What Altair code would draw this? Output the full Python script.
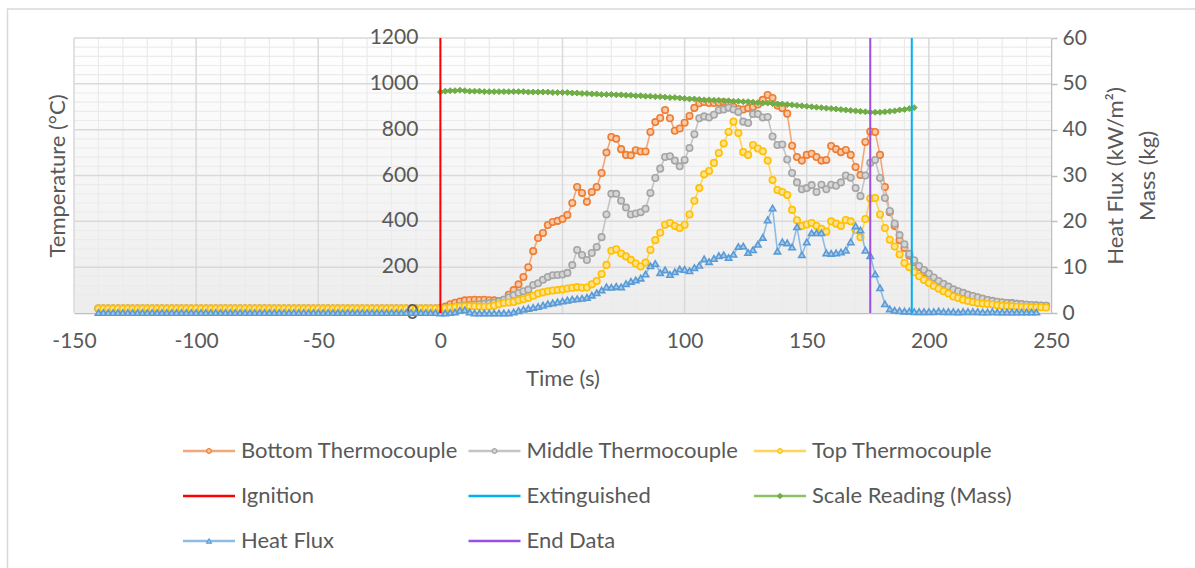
import altair as alt
import pandas as pd

# ---------------------------------------------------------------- data
# time stamps (s) relative to ignition, logged every 2 s
TIME_PRE = list(range(-140, 0, 2))
TIME_FIRE = list(range(0, 250, 2))
TIME_FLUX = list(range(0, 246, 2))
TIME_MASS = list(range(0, 196, 2))

# thermocouple readings (°C) before ignition
BOTTOM_PRE = [20, 20, 20, 20, 20, 20, 20, 20, 20, 20,
              20, 20, 20, 20, 20, 20, 20, 20, 20, 20,
              20, 20, 20, 20, 20, 20, 20, 20, 20, 20,
              20, 20, 20, 20, 20, 20, 20, 20, 20, 20,
              20, 20, 20, 20, 20, 20, 20, 20, 20, 20,
              20, 20, 20, 20, 20, 20, 20, 20, 20, 20,
              20, 20, 20, 20, 20, 20, 20, 20, 20, 20]
MIDDLE_PRE = [20, 20, 20, 20, 20, 20, 20, 20, 20, 20,
              20, 20, 20, 20, 20, 20, 20, 20, 20, 20,
              20, 20, 20, 20, 20, 20, 20, 20, 20, 20,
              20, 20, 20, 20, 20, 20, 20, 20, 20, 20,
              20, 20, 20, 20, 20, 20, 20, 20, 20, 20,
              20, 20, 20, 20, 20, 20, 20, 20, 20, 20,
              20, 20, 20, 20, 20, 20, 20, 20, 20, 20]
TOP_PRE = [19, 19, 19, 19, 19, 19, 19, 19, 19, 19,
           19, 19, 19, 19, 19, 19, 19, 19, 19, 19,
           19, 19, 19, 19, 19, 19, 19, 19, 19, 19,
           19, 19, 19, 19, 19, 19, 19, 19, 19, 19,
           19, 19, 19, 19, 19, 19, 19, 19, 19, 19,
           19, 19, 19, 19, 19, 19, 19, 19, 19, 19,
           19, 19, 19, 19, 19, 19, 19, 19, 19, 19]
FLUX_PRE = [0.1, 0.1, 0.1, 0.1, 0.1, 0.1, 0.1, 0.1, 0.1, 0.1,
            0.1, 0.1, 0.1, 0.1, 0.1, 0.1, 0.1, 0.1, 0.1, 0.1,
            0.1, 0.1, 0.1, 0.1, 0.1, 0.1, 0.1, 0.1, 0.1, 0.1,
            0.1, 0.1, 0.1, 0.1, 0.1, 0.1, 0.1, 0.1, 0.1, 0.1,
            0.1, 0.1, 0.1, 0.1, 0.1, 0.1, 0.1, 0.1, 0.1, 0.1,
            0.1, 0.1, 0.1, 0.1, 0.1, 0.1, 0.1, 0.1, 0.1, 0.1,
            0.1, 0.1, 0.1, 0.1, 0.1, 0.1, 0.1, 0.1, 0.1, 0.1]

# thermocouple readings (°C) from ignition onward
BOTTOM_FIRE = [22, 28, 38, 45, 50, 55, 57, 58, 57, 58,
               56, 55, 52, 58, 80, 100, 125, 157, 200, 270,
               327, 349, 384, 397, 402, 410, 428, 480, 550, 524,
               485, 528, 550, 611, 700, 768, 760, 715, 690, 688,
               710, 705, 705, 790, 833, 851, 886, 850, 795, 805,
               830, 860, 895, 915, 921, 916, 916, 918, 921, 910,
               900, 890, 888, 894, 899, 910, 930, 951, 938, 905,
               894, 870, 730, 681, 665, 690, 695, 681, 665, 668,
               729, 715, 702, 711, 690, 637, 602, 746, 792, 790,
               690, 550, 440, 380, 318, 284, 250, 222, 200, 178,
               160, 145, 132, 120, 110, 100, 93, 87, 80, 73,
               67, 62, 57, 52, 48, 46, 44, 43, 40, 38,
               36, 34, 33, 32, 31]
MIDDLE_FIRE = [21, 22, 24, 27, 30, 33, 35, 37, 38, 40,
               42, 45, 50, 58, 68, 78, 87, 95, 102, 122,
               130, 145, 157, 165, 166, 168, 175, 209, 275, 253,
               231, 262, 288, 331, 430, 520, 520, 490, 460, 430,
               434, 440, 455, 524, 589, 630, 681, 684, 665, 640,
               668, 720, 780, 850, 858, 853, 865, 885, 888, 896,
               888, 877, 835, 829, 868, 868, 853, 855, 770, 733,
               735, 670, 611, 570, 540, 545, 558, 528, 560, 540,
               560, 555, 570, 600, 590, 545, 510, 600, 655, 668,
               589, 502, 445, 390, 340, 300, 258, 230, 205, 188,
               172, 155, 140, 127, 115, 103, 95, 88, 80, 74,
               68, 62, 57, 53, 49, 46, 44, 42, 40, 38,
               36, 35, 34, 33, 32]
TOP_FIRE = [20, 21, 23, 26, 28, 29, 30, 29, 28, 27,
            28, 32, 38, 44, 46, 48, 55, 60, 66, 75,
            85, 90, 95, 98, 100, 103, 107, 110, 113, 110,
            111, 125, 140, 170, 210, 272, 278, 260, 247, 232,
            216, 203, 220, 275, 318, 350, 385, 393, 380, 371,
            385, 430, 490, 545, 605, 620, 655, 698, 740, 790,
            835, 785, 702, 690, 733, 718, 706, 665, 580, 537,
            528, 515, 450, 405, 380, 386, 393, 380, 368, 355,
            400, 390, 380, 406, 400, 362, 331, 410, 500, 502,
            430, 371, 320, 290, 255, 218, 200, 178, 160, 144,
            131, 118, 106, 95, 85, 72, 65, 58, 52, 47,
            44, 41, 39, 37, 34, 31, 30, 29, 27, 26,
            26, 25, 25, 25, 24]

# heat flux (kW/m²) from ignition onward
FLUX_FIRE = [0.0, 0.0, 0.1, 0.2, 0.6, 0.7, 0.2, 0.0, 0.0, 0.0,
             0.0, 0.0, 0.0, 0.0, 0.0, 0.2, 0.5, 0.8, 1.0, 1.2,
             1.4, 1.7, 2.0, 2.2, 2.4, 2.6, 2.8, 3.0, 3.1, 3.2,
             3.4, 3.9, 4.4, 5.0, 5.7, 5.6, 5.8, 5.7, 6.4, 6.9,
             7.2, 7.6, 8.5, 10.3, 10.8, 8.8, 9.4, 8.4, 9.0, 9.6,
             9.5, 9.2, 9.9, 10.4, 11.8, 11.2, 11.9, 12.5, 12.7, 12.1,
             12.8, 14.5, 14.6, 13.2, 13.8, 15.0, 16.5, 20.3, 22.9, 13.5,
             15.5, 15.3, 14.4, 18.8, 12.7, 15.5, 17.5, 17.5, 17.5, 13.1,
             13.0, 13.1, 13.3, 13.7, 15.5, 19.0, 18.1, 13.7, 12.5, 8.5,
             5.5, 2.0, 0.9, 0.6, 0.5, 0.4, 0.4, 0.3, 0.3, 0.3,
             0.3, 0.3, 0.4, 0.3, 0.3, 0.3, 0.2, 0.3, 0.3, 0.3,
             0.3, 0.2, 0.2, 0.3, 0.2, 0.2, 0.2, 0.2, 0.2, 0.2,
             0.2, 0.2, 0.2]

# scale reading (kg)
MASS = [48.2, 48.4, 48.5, 48.5, 48.6, 48.5, 48.4, 48.4, 48.4, 48.3,
        48.3, 48.3, 48.3, 48.3, 48.3, 48.3, 48.3, 48.3, 48.2, 48.2,
        48.2, 48.2, 48.2, 48.1, 48.1, 48.1, 48.1, 48.0, 48.0, 47.9,
        47.9, 47.8, 47.8, 47.7, 47.7, 47.7, 47.6, 47.6, 47.5, 47.5,
        47.4, 47.4, 47.3, 47.3, 47.2, 47.2, 47.1, 47.0, 47.0, 46.9,
        46.8, 46.7, 46.7, 46.6, 46.5, 46.5, 46.4, 46.4, 46.3, 46.3,
        46.2, 46.2, 46.1, 46.1, 46.0, 45.9, 45.8, 45.8, 45.7, 45.6,
        45.6, 45.5, 45.4, 45.3, 45.2, 45.1, 45.0, 44.9, 44.8, 44.7,
        44.6, 44.5, 44.4, 44.3, 44.2, 44.1, 44.0, 43.9, 43.8, 43.8,
        43.8, 43.9, 44.0, 44.1, 44.3, 44.4, 44.6, 44.8]

# event times (s)
EVENTS = ["Ignition", "Extinguished", "End Data"]
EVENT_TIMES = [0, 193, 176]

# axis ticks
X_TICKS = [-150, -100, -50, 0, 50, 100, 150, 200, 250]
TEMP_TICKS = [0, 200, 400, 600, 800, 1000, 1200]
RIGHT_TICKS = [0, 10, 20, 30, 40, 50, 60]
X_MINOR = [v for v in range(-140, 250, 10) if v % 50 != 0]
TEMP_MINOR = [v for v in range(40, 1200, 40) if v % 200 != 0]

# ---------------------------------------------------------------- style
FONT = "Lato"
FS = 21      # tick labels
FS_T = 22    # titles and legend
TXT = "#595959"
W, H = 977, 275
PAD = {"left": 74, "top": 38, "right": 144, "bottom": 255}

SERIES_STYLE = {
    "Bottom Thermocouple": dict(color="#ED7D31", line="#F2A77A", fill="#F8C8A8", shape="circle"),
    "Middle Thermocouple": dict(color="#A5A5A5", line="#C4C4C4", fill="#D6D6D6", shape="circle"),
    "Top Thermocouple": dict(color="#FFC000", line="#FFD35C", fill="#FFE28F", shape="circle"),
    "Ignition": dict(color="#FF0000", line="#FF0000", fill=None, shape=None),
    "Extinguished": dict(color="#00B0F0", line="#00B0F0", fill=None, shape=None),
    "Scale Reading (Mass)": dict(color="#70AD47", line="#8CC265", fill="#70AD47", shape="diamond"),
    "Heat Flux": dict(color="#5B9BD5", line="#8DBBE5", fill="#A9CCEC", shape="triangle-up"),
    "End Data": dict(color="#9A4FE0", line="#9A4FE0", fill=None, shape=None),
}
LEGEND_ORDER = list(SERIES_STYLE.keys())

xs = alt.Scale(domain=[-150, 250], nice=False, zero=False)
ys_temp = alt.Scale(domain=[0, 1200], nice=False, zero=False)
ys_right = alt.Scale(domain=[0, 60], nice=False, zero=False)

x_axis = alt.Axis(values=X_TICKS, grid=False, ticks=False, domainColor="#BFBFBF",
                  domainWidth=1.5, labelFont=FONT, labelFontSize=FS, labelColor=TXT,
                  labelPadding=17, labelExpr="'' + datum.value", labelFlush=False,
                  title="Time (s)", titleFont=FONT, titleFontSize=FS_T,
                  titleFontWeight="normal", titleColor=TXT, titlePadding=17)
temp_axis = alt.Axis(orient="left", labels=False, ticks=False, domain=False, grid=False,
                     title="Temperature (°C)", titleFont=FONT, titleFontSize=FS_T,
                     titleFontWeight="normal", titleColor=TXT, titlePadding=5)
right_axis = alt.Axis(orient="right", values=RIGHT_TICKS, grid=False, ticks=True,
                      tickSize=6, tickColor="#BFBFBF", tickWidth=1.5,
                      domainColor="#BFBFBF", domainWidth=1.5, labelPadding=5,
                      labelFont=FONT, labelFontSize=FS, labelColor=TXT, format="d",
                      title=["Heat Flux (kW/m²)", "Mass (kg)"], titleAngle=270,
                      titleFont=FONT, titleFontSize=FS_T, titleFontWeight="normal",
                      titleColor=TXT, titlePadding=9, titleLineHeight=32)


def xenc(field):
    return alt.X(f"{field}:Q", scale=xs, axis=x_axis)


def ytemp(field):
    return alt.Y(f"{field}:Q", scale=ys_temp, axis=temp_axis)


def yright(field):
    return alt.Y(f"{field}:Q", scale=ys_right, axis=right_axis)


# ---------------------------------------------------------------- tables
times = TIME_PRE + TIME_FIRE
temps = {
    "Bottom Thermocouple": BOTTOM_PRE + BOTTOM_FIRE,
    "Middle Thermocouple": MIDDLE_PRE + MIDDLE_FIRE,
    "Top Thermocouple": TOP_PRE + TOP_FIRE,
}
flux_df = pd.DataFrame({"t": TIME_PRE + TIME_FLUX, "v": FLUX_PRE + FLUX_FIRE})
mass_df = pd.DataFrame({"t": TIME_MASS, "v": MASS})
event_df = pd.DataFrame({"name": EVENTS, "t": EVENT_TIMES})

# ---------------------------------------------------------------- background + grid
frame = alt.Chart(pd.DataFrame({"k": [0]})).mark_rect(
    fill="transparent", stroke="#D9D9D9", strokeWidth=1.5
).encode(x=alt.value(-66.5), x2=alt.value(W + 160), y=alt.value(-29), y2=alt.value(H + 280))

plot_bg = alt.Chart(pd.DataFrame({"k": [0]})).mark_rect(
    fill={"gradient": "linear", "x1": 0, "x2": 0, "y1": 0, "y2": 1,
          "stops": [{"offset": 0, "color": "#FFFFFF"}, {"offset": 1, "color": "#EDEDED"}]}
).encode(x=alt.value(0), x2=alt.value(W), y=alt.value(0), y2=alt.value(H))

grid_x_minor = alt.Chart(pd.DataFrame({"g": X_MINOR})).mark_rule(
    color="#EBEBEB", strokeWidth=1.2).encode(x=xenc("g"))
grid_y_minor = alt.Chart(pd.DataFrame({"g": TEMP_MINOR})).mark_rule(
    color="#EBEBEB", strokeWidth=1.2).encode(y=ytemp("g"))
grid_x = alt.Chart(pd.DataFrame({"g": X_TICKS[:-1]})).mark_rule(
    color="#D9D9D9", strokeWidth=1.5).encode(x=xenc("g"))
grid_y = alt.Chart(pd.DataFrame({"g": TEMP_TICKS[1:]})).mark_rule(
    color="#D9D9D9", strokeWidth=1.5).encode(y=ytemp("g"))

# temperature tick labels sit on the t = 0 line
temp_labels = alt.Chart(pd.DataFrame({
    "x0": [0] * len(TEMP_TICKS), "v": TEMP_TICKS, "lbl": [str(v) for v in TEMP_TICKS]
})).mark_text(align="right", baseline="middle", dx=-22, font=FONT, fontSize=FS,
              color=TXT).encode(x=xenc("x0"), y=ytemp("v"), text="lbl:N")

# ---------------------------------------------------------------- series
temp_layers = []
for name, vals in temps.items():
    st = SERIES_STYLE[name]
    df = pd.DataFrame({"t": times, "v": vals})
    base = alt.Chart(df)
    temp_layers.append(base.mark_line(color=st["line"], strokeWidth=1.6).encode(
        x=xenc("t"), y=ytemp("v")))
    temp_layers.append(base.mark_point(shape=st["shape"], filled=True, fill=st["fill"],
                                       stroke=st["color"], strokeWidth=1.6, size=42,
                                       opacity=1).encode(x=xenc("t"), y=ytemp("v")))

left = alt.layer(plot_bg, grid_x_minor, grid_y_minor, grid_x, grid_y, *temp_layers,
                 temp_labels)

mass_st = SERIES_STYLE["Scale Reading (Mass)"]
flux_st = SERIES_STYLE["Heat Flux"]
mass_line = alt.Chart(mass_df).mark_line(color=mass_st["color"], strokeWidth=3).encode(
    x=xenc("t"), y=yright("v"))
mass_pts = alt.Chart(mass_df).mark_point(shape="diamond", filled=True, fill=mass_st["fill"],
                                         stroke=mass_st["color"], strokeWidth=1, size=36,
                                         opacity=1).encode(x=xenc("t"), y=yright("v"))
flux_line = alt.Chart(flux_df).mark_line(color=flux_st["line"], strokeWidth=1.6).encode(
    x=xenc("t"), y=yright("v"))
flux_pts = alt.Chart(flux_df).mark_point(shape="triangle-up", filled=True,
                                         fill=flux_st["fill"], stroke=flux_st["color"],
                                         strokeWidth=1.6, size=40, opacity=1).encode(
    x=xenc("t"), y=yright("v"))

event_layers = []
for name in EVENTS:
    event_layers.append(
        alt.Chart(event_df).transform_filter(alt.datum.name == name).mark_rule(
            color=SERIES_STYLE[name]["color"], strokeWidth=2).encode(x=xenc("t")))

right = alt.layer(mass_line, mass_pts, flux_line, flux_pts, *event_layers)

# ---------------------------------------------------------------- legend (3 columns)
LEG_X0, LEG_DX, LEG_LINE, LEG_GAP = 109, 285.5, 52, 6
LEG_Y0, LEG_DY = 413, 45
legend_layers = []
one = pd.DataFrame({"k": [0]})
for i, name in enumerate(LEGEND_ORDER):
    st = SERIES_STYLE[name]
    lx = LEG_X0 + (i % 3) * LEG_DX
    ly = LEG_Y0 + (i // 3) * LEG_DY
    legend_layers.append(alt.Chart(one).mark_rule(color=st["line"], strokeWidth=2.5).encode(
        x=alt.value(lx), x2=alt.value(lx + LEG_LINE), y=alt.value(ly)))
    if st["shape"]:
        legend_layers.append(alt.Chart(one).mark_point(
            shape=st["shape"], filled=True, fill=st["fill"], stroke=st["color"],
            strokeWidth=1.2, size=22, opacity=1).encode(
            x=alt.value(lx + LEG_LINE / 2), y=alt.value(ly)))
    legend_layers.append(alt.Chart(one).mark_text(
        text=name, align="left", baseline="middle", font=FONT, fontSize=FS_T, color=TXT
    ).encode(x=alt.value(lx + LEG_LINE + LEG_GAP), y=alt.value(ly)))

chart = alt.layer(
    frame, left, right, *legend_layers
).resolve_scale(y="independent").properties(
    width=W, height=H, autosize=alt.AutoSizeParams(type="none"), padding=PAD,
    background="white"
).configure_view(stroke=None)

chart.save("out.html", embed_options={"renderer": "svg", "actions": False})
